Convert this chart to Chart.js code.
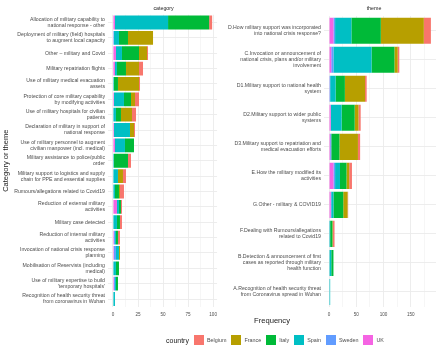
<!DOCTYPE html>
<html>
<head>
<meta charset="utf-8">
<script src="https://cdn.jsdelivr.net/npm/chart.js@4"></script>
<style>
  body { margin: 0; background: #fff; width: 440px; height: 352px; overflow: hidden; position: relative; font-family: "Liberation Sans", Arial, sans-serif; }
  canvas { position: absolute; top: 0; }
  #xtitle { position: absolute; left: 222px; width: 100px; top: 316px; text-align: center; font-size: 7.6px; color: #1a1a1a; }
  #legend { position: absolute; left: 166px; top: 334px; height: 12px; display: flex; align-items: center; color: #1a1a1a; }
  #legend .title { font-size: 7px; margin-right: 5px; }
  #legend .key { width: 10px; height: 10px; margin-right: 3px; }
  #legend .lab { font-size: 5.4px; color: #4d4d4d; margin-right: 5px; }
</style>
</head>
<body>
<canvas id="catChart" width="222" height="322" style="left:0"></canvas>
<canvas id="themeChart" width="218" height="322" style="left:222px"></canvas>
<div id="xtitle">Frequency</div>
<div id="legend"></div>

<script>
// Countries and their colours (ggplot hue palette)
const countries = ['Belgium', 'France', 'Italy', 'Spain', 'Sweden', 'UK'];
const countryColors = ['#F8766D', '#B79F00', '#00BA38', '#00BFC4', '#619CFF', '#F564E3'];

// Left panel: category
const categoryLabels = [
    ['Allocation of military capability to', 'national response - other'],
    ['Deployment of military (field) hospitals', 'to augment local capacity'],
    'Other \u2013 military and Covid',
    'Military repatriation flights',
    ['Use of military medical evacuation', 'assets'],
    ['Protection of core military capability', 'by modifying activities'],
    ['Use of military hospitals for civilian', 'patients'],
    ['Declaration of military in support of', 'national response'],
    ['Use of military personnel to augment', 'civilian manpower (incl. medical)'],
    ['Military assistance to police/public', 'order'],
    ['Military support to logistics and supply', 'chain for PPE and essential supplies'],
    'Rumours/allegations related to Covid19',
    ['Reduction of external military', 'activities'],
    'Military case detected',
    ['Reduction of internal military', 'activities'],
    ['Invocation of national crisis response', 'planning'],
    ['Mobilisation of Reservists (including', 'medical)'],
    ['Use of military expertise to build', '\'temporary hospitals\''],
    ['Recognition of health security threat', 'from coronavirus in Wuhan']
];
const catBelgium = [3, 0, 1, 4, 1, 4, 4, 1, 0, 3, 3, 4, 1, 2, 2, 0, 0, 0, 0];
const catFrance  = [0, 25, 8, 13, 21, 4, 11, 4, 0, 0, 5, 1, 0, 0, 0, 1, 0, 0, 0];
const catItaly   = [41, 9, 17, 9, 4, 7, 5, 0, 9, 14, 0, 4, 2, 3, 2, 0, 3, 2, 0];
const catSpain   = [53, 5, 6, 2, 1, 10, 3, 16, 10, 1, 5, 2, 2, 4, 1, 3, 3, 1, 2];
const catSweden  = [0, 1, 0, 0, 0, 0, 0, 0, 0, 0, 0, 0, 0, 0, 1, 2, 0, 1, 0];
const catUK      = [2, 0, 3, 2, 0, 1, 0, 1, 2, 0, 0, 0, 4, 0, 1, 1, 0, 1, 0];
const catTicks = [0, 25, 50, 75, 100];

// Right panel: theme
const themeLabels = [
    ['D.How military support was incorporated', 'into national crisis response?'],
    ['C.Invocation or announcement of', 'national crisis, plans and/or military', 'involvement'],
    ['D1.Military support to national health', 'system'],
    ['D2.Military support to wider public', 'systems'],
    ['D3.Military support to repatriation and', 'medical evacuation efforts'],
    ['E.How the military modified its', 'activities'],
    'G.Other - military & COVID19',
    ['F.Dealing with Rumours/allegations', 'related to Covid19'],
    ['B.Detection & announcement of first', 'cases as reported through military', 'health function'],
    ['A.Recognition of health security threat', 'from Coronavirus spread in Wuhan']
];
const thBelgium = [13, 3, 3, 4, 4, 5, 1, 3, 0, 0];
const thFrance  = [79, 6, 37, 7, 34, 5, 8, 1, 0, 0];
const thItaly   = [54, 42, 17, 24, 15, 12, 18, 4, 4, 0];
const thSpain   = [30, 70, 10, 20, 0, 9, 4, 2, 4, 2];
const thSweden  = [3, 4, 1, 0, 2, 3, 1, 0, 0, 0];
const thUK      = [8, 4, 1, 3, 2, 8, 3, 0, 0, 0];
const themeTicks = [0, 50, 100, 150];

const FONT = '"Liberation Sans", Arial, sans-serif';
const GRID = '#ebebeb';

// draws the facet strip label above the panel
const stripLabel = {
    id: 'stripLabel',
    afterDraw(chart, args, opts) {
        const { ctx, chartArea } = chart;
        ctx.save();
        ctx.font = '5.3px ' + FONT;
        ctx.fillStyle = '#1a1a1a';
        ctx.textAlign = 'center';
        ctx.textBaseline = 'middle';
        ctx.fillText(opts.text, (chartArea.left + chartArea.right) / 2 + (opts.dx || 0), 8.7);
        ctx.restore();
    }
};

function makePanel(id, labels, values, majorTicks, opts) {
    // stacking goes left to right: UK first, Belgium last
    const datasets = [];
    for (let i = countries.length - 1; i >= 0; i--) {
        datasets.push({
            label: countries[i],
            data: values[i],
            backgroundColor: countryColors[i],
            borderWidth: 0,
            barPercentage: 1,
            categoryPercentage: 0.9
        });
    }

    const step = majorTicks[1] - majorTicks[0];
    const dataMax = Math.max(...labels.map((l, i) => values.reduce((s, v) => s + v[i], 0)));
    const pad = dataMax * 0.05;
    const allTicks = [];
    for (let v = 0; v <= dataMax + pad; v += step / 2) allTicks.push(v);

    new Chart(document.getElementById(id), {
        type: 'bar',
        data: { labels: labels, datasets: datasets },
        plugins: [stripLabel],
        options: {
            indexAxis: 'y',
            responsive: false,
            animation: false,
            devicePixelRatio: 1,
            layout: { padding: { top: opts.top, right: opts.right, left: 0, bottom: 0 } },
            plugins: {
                legend: { display: false },
                tooltip: { enabled: false },
                stripLabel: { text: opts.strip, dx: opts.dx }
            },
            scales: {
                x: {
                    stacked: true,
                    min: -pad,
                    max: dataMax + pad,
                    afterBuildTicks: s => { s.ticks = allTicks.map(v => ({ value: v })); },
                    afterFit: s => { s.height = opts.axisHeight; },
                    border: { display: false },
                    grid: {
                        color: GRID,
                        drawTicks: false,
                        lineWidth: c => (c.tick && c.tick.value % step === 0) ? 0.9 : 0.45
                    },
                    ticks: {
                        autoSkip: false,
                        maxRotation: 0,
                        padding: 5,
                        color: '#4d4d4d',
                        font: { family: FONT, size: 4.6 },
                        callback: v => (v % step === 0 ? v : '')
                    }
                },
                y: {
                    stacked: true,
                    afterFit: s => { s.width = opts.yWidth; },
                    border: { display: false },
                    grid: { color: GRID, lineWidth: 0.9, offset: false, drawTicks: false },
                    ticks: {
                        autoSkip: false,
                        padding: 3,
                        color: '#4d4d4d',
                        font: { family: FONT, size: 5.2, lineHeight: 1.15 }
                    },
                    title: {
                        display: !!opts.yTitle,
                        text: opts.yTitle || '',
                        color: '#1a1a1a',
                        padding: { top: 1, bottom: 0 },
                        font: { family: FONT, size: 7.5 }
                    }
                }
            }
        }
    });
}

makePanel('catChart', categoryLabels,
    [catBelgium, catFrance, catItaly, catSpain, catSweden, catUK], catTicks,
    { top: 14.8, right: 1, axisHeight: 15.3, yWidth: 108, strip: 'category', dx: 1, yTitle: 'Category or theme' });

makePanel('themeChart', themeLabels,
    [thBelgium, thFrance, thItaly, thSpain, thSweden, thUK], themeTicks,
    { top: 16.2, right: 4, axisHeight: 15.5, yWidth: 102, strip: 'theme', dx: -6 });

// legend at the bottom
const legend = document.getElementById('legend');
legend.innerHTML = '<span class="title">country</span>';
countries.forEach((c, i) => {
    legend.innerHTML += `<span class="key" style="background:${countryColors[i]}"></span><span class="lab">${c}</span>`;
});
</script>
</body>
</html>
